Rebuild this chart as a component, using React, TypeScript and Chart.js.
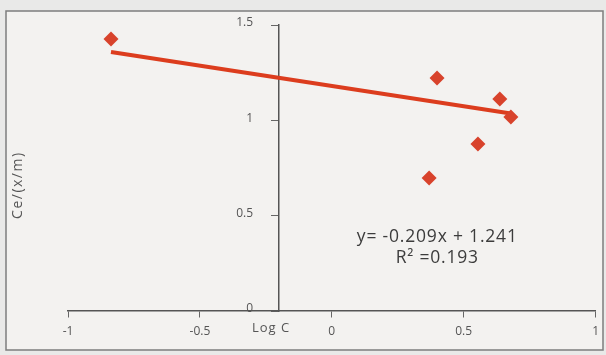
import React, { useEffect, useRef } from "react";
import { Chart, registerables } from "chart.js";

Chart.register(...registerables);

// Observed points (Log C, Ce/(x/m))
const logC = [-0.837, 0.399, 0.637, 0.679, 0.554, 0.369];
const ceOverXm = [1.427, 1.222, 1.112, 1.017, 0.876, 0.698];
// Trend line as drawn in the figure
const trendX = [-0.837, 0.679];
const trendY = [1.358, 1.036];
// Tick values / labels
const xTicks = [-1, -0.5, 0, 0.5, 1];
const xTickLabels = ["-1", "-0.5", "0", "0.5", "1"];
const yTicks = [0, 0.5, 1, 1.5];
const yTickLabels = ["0", "0.5", "1", "1.5"];
const yAxisCrossX = -0.2;
const equationLines = ["y= -0.209x + 1.241", "R\u00B2 =0.193"];
const xTitle = "Log C";
const yTitle = "Ce/(x/m)";

const FONT = "'Open Sans', 'Noto Sans', sans-serif";

export default function App() {
  const ref = useRef<HTMLCanvasElement | null>(null);

  useEffect(() => {
    const canvas = ref.current;
    if (!canvas) return;

    const framePlugin = {
      id: "frame",
      beforeDraw(chart: any) {
        const ctx = chart.ctx;
        ctx.save();
        ctx.fillStyle = "#e9e9e8";
        ctx.fillRect(0, 0, chart.width, chart.height);
        ctx.fillStyle = "#f3f2f0";
        ctx.fillRect(6, 11, 597, 339);
        ctx.strokeStyle = "#7d7d7d";
        ctx.lineWidth = 1.5;
        ctx.strokeRect(6, 11, 597, 339);
        ctx.restore();
      },
      afterDraw(chart: any) {
        const ctx = chart.ctx;
        const xs = chart.scales.x;
        const ys = chart.scales.y;
        ctx.save();
        // y tick labels, left of the crossing axis
        ctx.fillStyle = "#555";
        ctx.textAlign = "right";
        ctx.textBaseline = "middle";
        ctx.font = "12px " + FONT;
        const axisPx = xs.getPixelForValue(yAxisCrossX);
        yTicks.forEach((v, i) => {
          ctx.fillText(yTickLabels[i], axisPx - 26, ys.getPixelForValue(v) - 2);
        });
        // regression equation
        ctx.fillStyle = "#3c3c3c";
        ctx.textAlign = "center";
        (ctx as any).letterSpacing = "0.8px";
        ctx.font = "17.5px " + FONT;
        const ex = xs.getPixelForValue(0.4);
        ctx.fillText(equationLines[0], ex, ys.getPixelForValue(0.39));
        ctx.fillText(equationLines[1], ex, ys.getPixelForValue(0.28));
        // axis titles
        ctx.fillStyle = "#555";
        (ctx as any).letterSpacing = "1px";
        ctx.font = "13px " + FONT;
        ctx.fillText(xTitle, xs.getPixelForValue(-0.23), 328);
        (ctx as any).letterSpacing = "1.5px";
        ctx.font = "14px " + FONT;
        ctx.translate(18, ys.getPixelForValue(0.66));
        ctx.rotate(-Math.PI / 2);
        ctx.fillText(yTitle, 0, 0);
        ctx.restore();
      },
    };

    const chart = new Chart(canvas, {
      type: "scatter",
      data: {
        datasets: [
          {
            label: "data",
            data: logC.map((x, i) => ({ x, y: ceOverXm[i] })),
            pointStyle: "rectRot",
            pointRadius: 7.5,
            backgroundColor: "#d8432c",
            borderColor: "#d8432c",
            borderWidth: 0,
            order: 0,
          },
          {
            label: "trend",
            type: "line",
            data: trendX.map((x, i) => ({ x, y: trendY[i] })),
            borderColor: "#dc3d1e",
            borderWidth: 4,
            pointRadius: 0,
            fill: false,
            order: 1,
          } as any,
        ],
      },
      options: {
        animation: false,
        responsive: false,
        maintainAspectRatio: false,
        layout: { padding: { left: 68, right: 9, top: 25, bottom: 44 } },
        plugins: { legend: { display: false }, tooltip: { enabled: false } },
        scales: {
          x: {
            type: "linear",
            min: -1,
            max: 1,
            position: { y: 0 } as any,
            afterBuildTicks: (s: any) => {
              s.ticks = xTicks.map((v) => ({ value: v }));
            },
            grid: {
              drawOnChartArea: false,
              drawTicks: true,
              tickLength: 6,
              color: "#666",
              lineWidth: 1,
            },
            border: { display: true, color: "#555", width: 1.5 },
            ticks: {
              color: "#555",
              font: { size: 12, family: FONT },
              padding: 7,
              maxRotation: 0,
              autoSkip: false,
              callback: (v: any) => {
                const i = xTicks.indexOf(Number(v));
                return i >= 0 ? xTickLabels[i] : "";
              },
            },
          },
          y: {
            type: "linear",
            min: 0,
            max: 1.5,
            position: { x: yAxisCrossX } as any,
            afterBuildTicks: (s: any) => {
              s.ticks = yTicks.map((v) => ({ value: v }));
            },
            grid: {
              drawOnChartArea: false,
              drawTicks: true,
              tickLength: 7,
              color: "#666",
              lineWidth: 1,
            },
            border: { display: true, color: "#555", width: 1.5 },
            ticks: { display: false },
          },
        },
      },
      plugins: [framePlugin],
    });

    return () => chart.destroy();
  }, []);

  return (
    <div style={{ position: "fixed", left: 0, top: 0, width: 606, height: 355 }}>
      <canvas ref={ref} width={606} height={355} style={{ width: 606, height: 355, display: "block" }} />
    </div>
  );
}
